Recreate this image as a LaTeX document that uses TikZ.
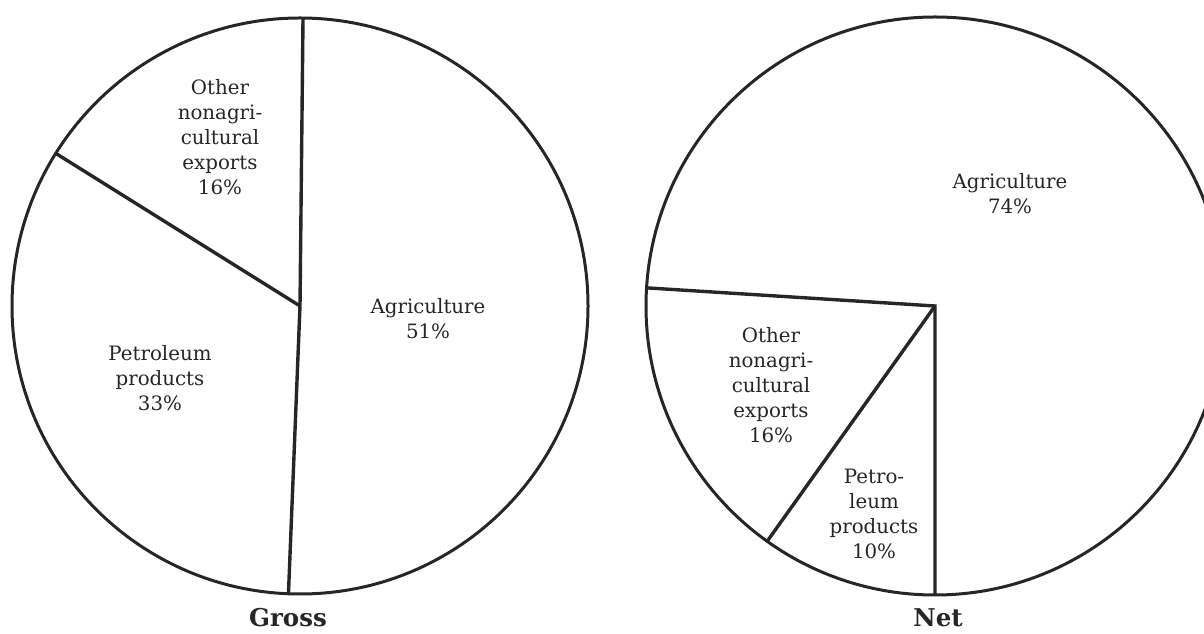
\documentclass[tikz,border=0pt]{standalone}
\usepackage{fontspec}
\setmainfont{DejaVu Serif}
\begin{document}
\begin{tikzpicture}[x=1pt,y=1pt,
  rim/.style={draw=black!85, line width=3pt},
  cut/.style={draw=black!85, line width=3.4pt, line join=miter},
  lbl/.style={font=\fontsize{19.8}{25}\selectfont, align=center, text=black!85, inner sep=0pt},
  ttl/.style={font=\bfseries\fontsize{24.5}{28}\selectfont, text=black!85, inner sep=0pt, anchor=base}]
\useasboundingbox (0,0) rectangle (1204,634);
\clip (0,0) rectangle (1204,634);
% Gross pie
\coordinate (L) at (300,328);
\path (L) ++(89.4:288) coordinate (L1);
\path (L) ++(-92.3:288) coordinate (L2);
\path (L) ++(148:288) coordinate (L3);
\draw[rim] (L) circle[radius=288];
\draw[cut] (L1) -- (L) -- (L2);
\draw[cut] (L3) -- (L);
\node[lbl] (lo) at (220,497) {Other\\nonagri-\\cultural\\exports\\16\%};
\node[lbl] (la) at (428,315) {Agriculture\\51\%};
\node[lbl] (lp) at (160,256) {Petroleum\\products\\33\%};
\node[ttl] (gross) at (288,7) {Gross};
% Net pie
\coordinate (R) at (935,328);
\path (R) ++(-90:289) coordinate (R1);
\path (R) ++(-125.5:289) coordinate (R2);
\path (R) ++(176.4:289) coordinate (R3);
\draw[rim] (R) circle[radius=289];
\draw[cut] (R1) -- (R) -- (R3);
\draw[cut] (R2) -- (R);
\node[lbl] (ra) at (1010,440) {Agriculture\\74\%};
\node[lbl] (ro) at (771,249) {Other\\nonagri-\\cultural\\exports\\16\%};
\node[lbl] (rp) at (874,120) {Petro-\\leum\\products\\10\%};
\node[ttl] (net) at (938,7) {Net};
\end{tikzpicture}
\end{document}
